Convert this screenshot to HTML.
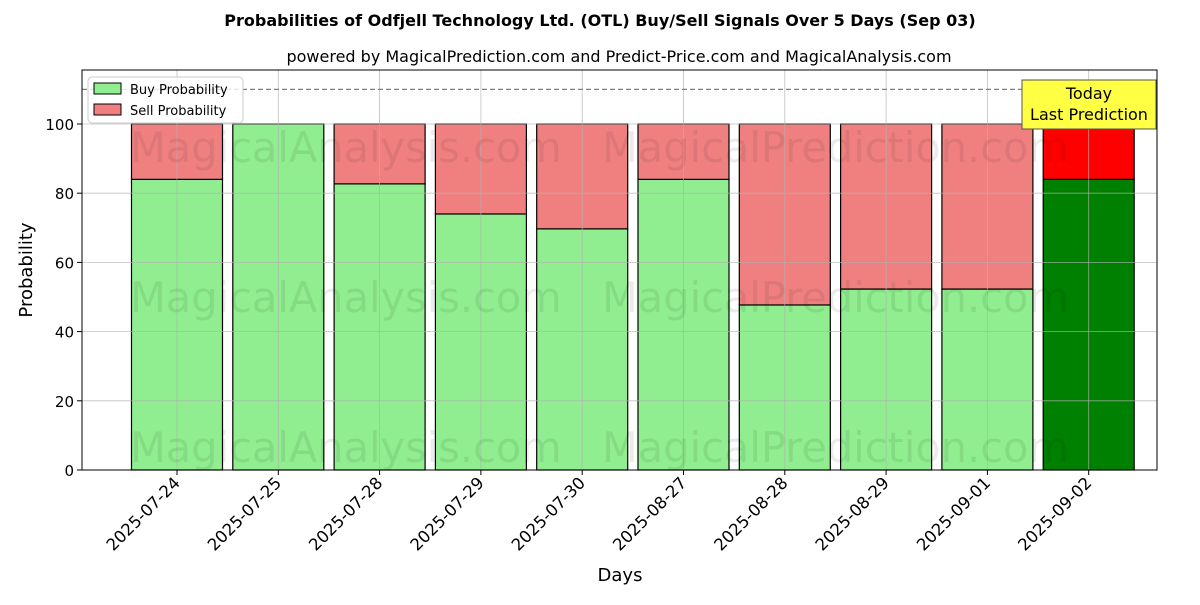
<!DOCTYPE html>
<html><head><meta charset="utf-8"><style>
body{margin:0;background:#fff;font-family:"Liberation Sans","DejaVu Sans",sans-serif}
</style></head><body>
<svg id="c" width="1200" height="600" xmlns="http://www.w3.org/2000/svg" font-family="DejaVu Sans, Liberation Sans, sans-serif">
<text x="600" y="26" text-anchor="middle" font-size="16" font-weight="bold">Probabilities of Odfjell Technology Ltd. (OTL) Buy/Sell Signals Over 5 Days (Sep 03)</text>
<text x="619" y="62" text-anchor="middle" font-size="16">powered by MagicalPrediction.com and Predict-Price.com and MagicalAnalysis.com</text>
<g id="bars"></g><g id="grid"></g><g id="wm" font-size="41.5" fill="#000" fill-opacity="0.08">
<text x="130" y="162">MagicalAnalysis.com</text><text x="602" y="162">MagicalPrediction.com</text>
<text x="130" y="312">MagicalAnalysis.com</text><text x="602" y="312">MagicalPrediction.com</text>
<text x="130" y="462">MagicalAnalysis.com</text><text x="602" y="462">MagicalPrediction.com</text></g>
<g id="axes"></g>
<text x="620" y="581" text-anchor="middle" font-size="18">Days</text>
<text transform="translate(32,270) rotate(-90)" text-anchor="middle" font-size="18">Probability</text>
<g>
<rect x="88" y="77" width="155" height="46" fill="#fff" fill-opacity="0.8" stroke="#ccc" rx="4"/>
<rect x="94" y="83" width="27" height="11" fill="#90ee90" stroke="#000"/>
<text x="130" y="94" font-size="13">Buy Probability</text>
<rect x="94" y="104" width="27" height="11" fill="#f08080" stroke="#000"/>
<text x="130" y="115" font-size="13">Sell Probability</text></g>
<g>
<rect x="1022" y="80" width="134" height="49" fill="#ffff44" stroke="#555"/>
<text x="1089" y="99" text-anchor="middle" font-size="16">Today</text>
<text x="1089" y="120" text-anchor="middle" font-size="16">Last Prediction</text></g>
</svg>
<script>
const categories=["2025-07-24","2025-07-25","2025-07-28","2025-07-29","2025-07-30","2025-08-27","2025-08-28","2025-08-29","2025-09-01","2025-09-02"];
const buyValues=[84,100,82.7,74,69.7,84,47.7,52.3,52.3,84];
const sellValues=[16,0,17.3,26,30.3,16,52.3,47.7,47.7,16];
const yTicks=[0,20,40,60,80,100];
const L=82,R=1157,T=70,B=470;
const xs=i=>177+(i)*101.3, ys=v=>B-v*3.46, bw=91;
const ns="http://www.w3.org/2000/svg";
function mk(p,t,a){const e=document.createElementNS(ns,t);for(const k in a)e.setAttribute(k,a[k]);document.getElementById(p).appendChild(e);return e;}
yTicks.forEach(v=>{const g=mk('grid','line',{x1:L,x2:R,y1:ys(v),y2:ys(v),stroke:'#b0b0b0','stroke-width':0.8,'stroke-opacity':0.8});

const t=mk('axes','text',{x:L-8,y:ys(v)+6,'text-anchor':'end','font-size':15});t.textContent=v;

mk('axes','line',{x1:L-5,x2:L,y1:ys(v),y2:ys(v),stroke:'#000'});});
categories.forEach((c,i)=>{const x=xs(i);
const g=mk('grid','line',{x1:x,x2:x,y1:T,y2:B,stroke:'#b0b0b0','stroke-width':0.8,'stroke-opacity':0.8});

const last=i===categories.length-1;
const b=mk('bars','rect',{x:x-bw/2,y:ys(buyValues[i]),width:bw,height:ys(0)-ys(buyValues[i]),fill:last?'#008000':'#90ee90',stroke:'#000','stroke-width':1.2});

const s=mk('bars','rect',{x:x-bw/2,y:ys(buyValues[i]+sellValues[i]),width:bw,height:ys(buyValues[i])-ys(buyValues[i]+sellValues[i]),fill:last?'#ff0000':'#f08080',stroke:'#000','stroke-width':1.2});

mk('axes','line',{x1:x,x2:x,y1:B,y2:B+5,stroke:'#000'});
const t=mk('axes','text',{transform:`translate(${x+4},${B+14}) rotate(-45)`,'text-anchor':'end','font-size':16.5});t.textContent=c;
});
const d=mk('axes','line',{x1:L,x2:R,y1:ys(110),y2:ys(110),stroke:'#808080','stroke-dasharray':'5,3','stroke-width':1.2});

const f=mk('axes','rect',{x:L,y:T,width:R-L,height:B-T,fill:'none',stroke:'#000','stroke-width':1});

</script></body></html>
